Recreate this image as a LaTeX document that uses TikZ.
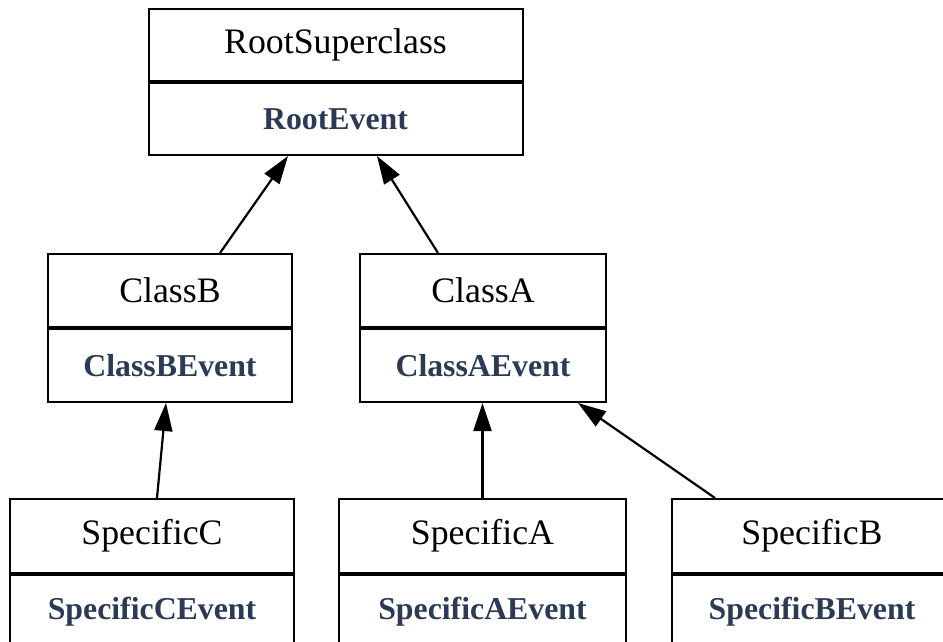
\documentclass[tikz,border=0pt]{standalone}
\usepackage{fontspec}
\setmainfont{Liberation Serif}
\usetikzlibrary{positioning,arrows.meta}
\definecolor{evblue}{HTML}{2B3A55}

\begin{document}
\begin{tikzpicture}[x=1pt,y=-1pt,
    cls/.style={draw, line width=2pt, inner sep=0pt, font=\fontsize{35.8}{40}\selectfont},
    ev/.style={cls, text=evblue, font=\fontsize{31.8}{36}\selectfont\bfseries},
    inh/.style={line width=2.2pt, -{Triangle[length=28pt,width=18pt]}}]
    \useasboundingbox (0,0) rectangle (943,642);
    \clip (0,0) rectangle (943,642);

    % root
    \node[cls, minimum width=374pt, minimum height=72pt] (root) at (335.5,45) {RootSuperclass};
    \node[ev, minimum width=374pt, minimum height=72pt, below=0pt of root] (rootev) {RootEvent};

    % middle row
    \node[cls, minimum width=244pt, minimum height=73pt] (clsB) at (170,290.5) {ClassB};
    \node[ev, minimum width=244pt, minimum height=73pt, below=0pt of clsB] (clsBev) {ClassBEvent};
    \node[cls, minimum width=246pt, minimum height=73pt] (clsA) at (483,290.5) {ClassA};
    \node[ev, minimum width=246pt, minimum height=73pt, below=0pt of clsA] (clsAev) {ClassAEvent};

    % bottom row
    \node[cls, minimum width=284pt, minimum height=74pt] (specC) at (152,536) {SpecificC};
    \node[ev, minimum width=284pt, minimum height=74pt, below=0pt of specC] (specCev) {SpecificCEvent};
    \node[cls, minimum width=287pt, minimum height=74pt] (specA) at (482.5,536) {SpecificA};
    \node[ev, minimum width=287pt, minimum height=74pt, below=0pt of specA] (specAev) {SpecificAEvent};
    \node[cls, minimum width=280pt, minimum height=74pt] (specB) at (812,536) {SpecificB};
    \node[ev, minimum width=280pt, minimum height=74pt, below=0pt of specB] (specBev) {SpecificBEvent};

    % inheritance
    \draw[inh] ([xshift=50pt]clsB.north) -- ([xshift=-47.5pt]rootev.south);
    \draw[inh] ([xshift=-45pt]clsA.north) -- ([xshift=41.5pt]rootev.south);
    \draw[inh] ([xshift=5pt]specC.north) -- ([xshift=-4pt]clsBev.south);
    \draw[inh] (specA.north) -- (specA.north |- clsAev.south);
    \draw[inh] ([xshift=-97pt]specB.north) -- ([xshift=95pt]clsAev.south);
\end{tikzpicture}
\end{document}
